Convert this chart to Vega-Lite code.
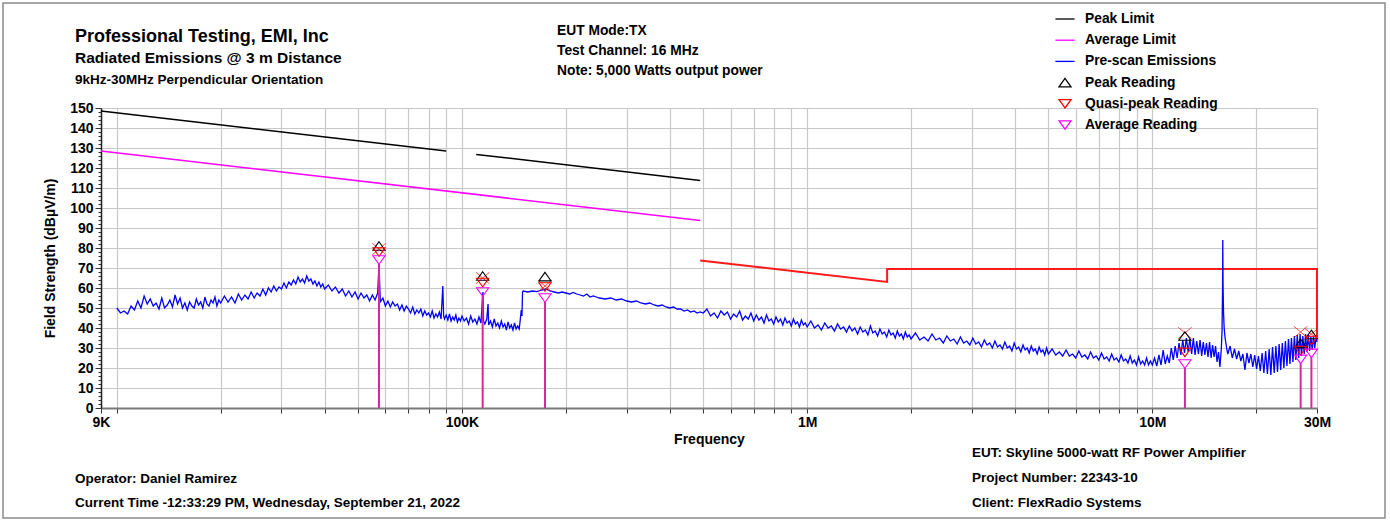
{
"$schema": "https://vega.github.io/schema/vega-lite/v6.json",
"width": 1216,
"height": 300,
"autosize": {"type": "none"},
"padding": {"left": 101, "top": 108, "right": 73, "bottom": 113},
"background": "white",
"config": {"font": "Liberation Sans", "view": {"stroke": null},
 "legend": {"orient": "none", "legendX": 957, "legendY": -96, "padding": 0, "labelFont": "Liberation Sans", "labelFontSize": 13.8, "labelFontWeight": "bold", "labelColor": "black", "symbolSize": 144, "symbolStrokeWidth": 1.3, "rowPadding": 7.2, "labelOffset": 13, "labelLimit": 300}},
"datasets": {
"trace": [
{"f":10000,"v":50},{"f":10250,"v":47.5},{"f":10500,"v":48.5},{"f":10750,"v":47},{"f":11000,"v":51},{"f":11250,"v":49},{"f":11500,"v":53.5},{"f":11750,"v":50},{"f":12000,"v":56},{"f":12250,"v":52},{"f":12500,"v":54.5},{"f":12750,"v":51},{"f":13000,"v":52.5},{"f":13250,"v":49.5},{"f":13500,"v":55},{"f":13750,"v":50},{"f":14000,"v":51.5},{"f":14250,"v":54},{"f":14500,"v":50.5},{"f":14750,"v":56.5},{"f":15000,"v":52},{"f":15250,"v":55},{"f":15500,"v":50},{"f":15750,"v":52.5},{"f":16000,"v":49},{"f":16250,"v":53},{"f":16500,"v":51},{"f":16750,"v":50},{"f":17000,"v":54.5},{"f":17250,"v":51.5},{"f":17500,"v":53},{"f":17750,"v":50},{"f":18000,"v":55.5},{"f":18250,"v":52},{"f":18500,"v":51},{"f":18750,"v":54},{"f":19000,"v":52.5},{"f":19250,"v":55.5},{"f":19500,"v":51},{"f":19750,"v":54},
{"f":20000,"v":52.5},{"f":20500,"v":56},{"f":21000,"v":53},{"f":21500,"v":55.5},{"f":22000,"v":52.5},{"f":22500,"v":57},{"f":23000,"v":54},{"f":23500,"v":56.5},{"f":24000,"v":54.5},{"f":24500,"v":58},{"f":25000,"v":55},{"f":25500,"v":57.5},{"f":26000,"v":56},{"f":26500,"v":59.5},{"f":27000,"v":56.5},{"f":27500,"v":60},{"f":28000,"v":58},{"f":28500,"v":61},{"f":29000,"v":58.5},{"f":29500,"v":60.5},{"f":30000,"v":59.5},{"f":30500,"v":62.5},{"f":31000,"v":60},{"f":31500,"v":63},{"f":32000,"v":61.5},{"f":32500,"v":64},{"f":33000,"v":62},{"f":33500,"v":65.5},{"f":34000,"v":63},{"f":34500,"v":64.5},{"f":35000,"v":62.5},{"f":35500,"v":66},{"f":36000,"v":63.5},{"f":36500,"v":64.5},{"f":37000,"v":62},{"f":37500,"v":63.5},{"f":38000,"v":61},{"f":38500,"v":63},{"f":39000,"v":60.5},{"f":39500,"v":62},
{"f":40000,"v":59.5},{"f":41000,"v":61.5},{"f":42000,"v":58.5},{"f":43000,"v":60.5},{"f":44000,"v":57.5},{"f":45000,"v":59.5},{"f":46000,"v":56},{"f":47000,"v":58.5},{"f":48000,"v":55.5},{"f":49000,"v":58},{"f":50000,"v":54.5},{"f":51000,"v":57.5},{"f":52000,"v":55},{"f":53000,"v":56.5},{"f":54000,"v":53.5},{"f":55000,"v":56.5},{"f":56000,"v":54},{"f":57000,"v":57.5},{"f":57500,"v":72},{"f":58000,"v":53},{"f":59000,"v":55},{"f":60000,"v":51},{"f":61000,"v":53.5},{"f":62000,"v":50.5},{"f":63000,"v":53},{"f":64000,"v":51},{"f":65000,"v":52},{"f":66000,"v":49},{"f":67000,"v":51.5},{"f":68000,"v":48.5},{"f":69000,"v":51},{"f":70000,"v":49.5},{"f":71000,"v":47.5},{"f":72000,"v":50.5},{"f":73000,"v":47},{"f":74000,"v":49},{"f":75000,"v":47.5},{"f":76000,"v":49.5},{"f":77000,"v":46},{"f":78000,"v":48.5},{"f":79000,"v":46.5},{"f":80000,"v":47.5},{"f":81000,"v":45.5},{"f":82000,"v":48.5},{"f":83000,"v":45},{"f":84000,"v":47},{"f":85000,"v":45.5},{"f":86000,"v":48},{"f":87000,"v":44.5},{"f":88000,"v":61},{"f":88500,"v":46},{"f":89000,"v":44.5},{"f":90000,"v":46.5},{"f":91000,"v":44},{"f":92000,"v":47},{"f":93000,"v":43.5},{"f":94000,"v":45.5},{"f":95000,"v":44},{"f":96000,"v":46.5},{"f":97000,"v":43},{"f":98000,"v":45},{"f":99000,"v":43.5},
{"f":100000,"v":46},{"f":101500,"v":43.5},{"f":103000,"v":45},{"f":104500,"v":42},{"f":106000,"v":46},{"f":107500,"v":43},{"f":109000,"v":44.5},{"f":110500,"v":42},{"f":112000,"v":45.5},{"f":113500,"v":42.5},{"f":115000,"v":58},{"f":115500,"v":43.5},{"f":116500,"v":42},{"f":118000,"v":44.5},{"f":119000,"v":52},{"f":119500,"v":41.5},{"f":121000,"v":43.5},{"f":122500,"v":40.5},{"f":124000,"v":44.5},{"f":125500,"v":41},{"f":127000,"v":42.5},{"f":128500,"v":40},{"f":130000,"v":43.5},{"f":131500,"v":40.5},{"f":133000,"v":42},{"f":134500,"v":39},{"f":136000,"v":43},{"f":137500,"v":40},{"f":139000,"v":41.5},{"f":140500,"v":39},{"f":142000,"v":42.5},{"f":143500,"v":39.5},{"f":145000,"v":41},{"f":146500,"v":39.5},{"f":147500,"v":44},{"f":148500,"v":49},{"f":149200,"v":46},{"f":149800,"v":58},
{"f":150500,"v":58.5},{"f":155000,"v":58},{"f":160000,"v":58.5},{"f":165000,"v":58.2},{"f":170000,"v":59},{"f":175000,"v":59.5},{"f":180000,"v":58.5},{"f":185000,"v":58},{"f":190000,"v":57.5},{"f":195000,"v":58},{"f":200000,"v":57.5},{"f":205000,"v":57},{"f":210000,"v":57.8},{"f":215000,"v":57},{"f":220000,"v":56.5},{"f":225000,"v":56},{"f":230000,"v":57},{"f":235000,"v":55.5},{"f":240000,"v":56},{"f":245000,"v":55.5},{"f":250000,"v":55},{"f":260000,"v":54.5},{"f":270000,"v":55},{"f":280000,"v":54},{"f":290000,"v":54.5},{"f":300000,"v":53.5},{"f":310000,"v":53},{"f":320000,"v":53.5},{"f":330000,"v":52.5},{"f":340000,"v":52},{"f":350000,"v":52.5},{"f":360000,"v":51.5},{"f":370000,"v":51},{"f":380000,"v":51.5},{"f":390000,"v":50.5},{"f":400000,"v":50},{"f":410000,"v":50.5},{"f":420000,"v":49.5},{"f":430000,"v":49.5},{"f":440000,"v":48.5},{"f":450000,"v":49},{"f":460000,"v":48},{"f":470000,"v":48.5},{"f":480000,"v":47.5},{"f":490000,"v":48},{"f":500000,"v":47.5},
{"f":512500,"v":49.5},{"f":525000,"v":46},{"f":537500,"v":47.5},{"f":550000,"v":45},{"f":562500,"v":48.5},{"f":575000,"v":46.5},{"f":587500,"v":48},{"f":600000,"v":44.5},{"f":612500,"v":47},{"f":625000,"v":45.5},{"f":637500,"v":48.5},{"f":650000,"v":44},{"f":662500,"v":46},{"f":675000,"v":44.5},{"f":687500,"v":47.5},{"f":700000,"v":43.5},{"f":712500,"v":46.5},{"f":725000,"v":44},{"f":737500,"v":45.5},{"f":750000,"v":42.5},{"f":762500,"v":46.5},{"f":775000,"v":43.5},{"f":787500,"v":44.5},{"f":800000,"v":42},{"f":812500,"v":45.5},{"f":825000,"v":43},{"f":837500,"v":44.5},{"f":850000,"v":41.5},{"f":862500,"v":45},{"f":875000,"v":42.5},{"f":887500,"v":43.5},{"f":900000,"v":41},{"f":912500,"v":44.5},{"f":925000,"v":42},{"f":937500,"v":43},{"f":950000,"v":40.5},{"f":962500,"v":44},{"f":975000,"v":41.5},{"f":987500,"v":42.5},{"f":1000000,"v":40.5},
{"f":1025000,"v":43.5},{"f":1050000,"v":40},{"f":1075000,"v":41.5},{"f":1100000,"v":39},{"f":1125000,"v":42.5},{"f":1150000,"v":40},{"f":1175000,"v":41},{"f":1200000,"v":38.5},{"f":1225000,"v":42},{"f":1250000,"v":39.5},{"f":1275000,"v":40.5},{"f":1300000,"v":38},{"f":1325000,"v":41},{"f":1350000,"v":38.5},{"f":1375000,"v":40},{"f":1400000,"v":37},{"f":1425000,"v":40.5},{"f":1450000,"v":38},{"f":1475000,"v":39},{"f":1500000,"v":36.5},{"f":1525000,"v":41},{"f":1550000,"v":37.5},{"f":1575000,"v":38.5},{"f":1600000,"v":36},{"f":1625000,"v":39.5},{"f":1650000,"v":37},{"f":1675000,"v":38},{"f":1700000,"v":35.5},{"f":1725000,"v":39},{"f":1750000,"v":36.5},{"f":1775000,"v":37.5},{"f":1800000,"v":35},{"f":1825000,"v":38.5},{"f":1850000,"v":36},{"f":1875000,"v":37},{"f":1900000,"v":34.5},{"f":1925000,"v":38},{"f":1950000,"v":35.5},{"f":1975000,"v":36.5},{"f":2000000,"v":34.5},
{"f":2060000,"v":37.5},{"f":2120000,"v":34},{"f":2180000,"v":35.5},{"f":2240000,"v":33.5},{"f":2300000,"v":37},{"f":2360000,"v":34},{"f":2420000,"v":35},{"f":2480000,"v":32.5},{"f":2540000,"v":36},{"f":2600000,"v":33.5},{"f":2660000,"v":34.5},{"f":2720000,"v":32},{"f":2780000,"v":35.5},{"f":2840000,"v":32.5},{"f":2900000,"v":33.5},{"f":2960000,"v":31.5},{"f":3020000,"v":35},{"f":3080000,"v":32},{"f":3140000,"v":33},{"f":3200000,"v":30.5},{"f":3260000,"v":34},{"f":3320000,"v":31.5},{"f":3380000,"v":32.5},{"f":3440000,"v":30},{"f":3500000,"v":33.5},{"f":3560000,"v":30.5},{"f":3620000,"v":31.5},{"f":3680000,"v":29.5},{"f":3740000,"v":33},{"f":3800000,"v":30},{"f":3860000,"v":31},{"f":3920000,"v":28.5},{"f":3980000,"v":32.5},{"f":4040000,"v":29.5},{"f":4100000,"v":30.5},{"f":4160000,"v":28},{"f":4220000,"v":31.5},{"f":4280000,"v":29},{"f":4340000,"v":30},{"f":4400000,"v":27.5},{"f":4460000,"v":31},{"f":4520000,"v":28.5},{"f":4580000,"v":29.5},{"f":4640000,"v":27},{"f":4700000,"v":30.5},{"f":4760000,"v":28},{"f":4820000,"v":29},{"f":4880000,"v":26.5},{"f":4940000,"v":30},{"f":5000000,"v":27},
{"f":5125000,"v":29.5},{"f":5250000,"v":26.5},{"f":5375000,"v":28},{"f":5500000,"v":26},{"f":5625000,"v":29},{"f":5750000,"v":26},{"f":5875000,"v":27},{"f":6000000,"v":25},{"f":6125000,"v":28.5},{"f":6250000,"v":25.5},{"f":6375000,"v":26.5},{"f":6500000,"v":24.5},{"f":6625000,"v":28},{"f":6750000,"v":25},{"f":6875000,"v":26},{"f":7000000,"v":24},{"f":7125000,"v":27.5},{"f":7250000,"v":24.5},{"f":7375000,"v":25.5},{"f":7500000,"v":23.5},{"f":7625000,"v":27},{"f":7750000,"v":24},{"f":7875000,"v":25},{"f":8000000,"v":23},{"f":8125000,"v":26.5},{"f":8250000,"v":23.5},{"f":8375000,"v":24.5},{"f":8500000,"v":22.5},{"f":8625000,"v":26},{"f":8750000,"v":22.5},{"f":8875000,"v":24},{"f":9000000,"v":21.5},{"f":9125000,"v":25.5},{"f":9250000,"v":22},{"f":9375000,"v":23.5},{"f":9500000,"v":21.5},{"f":9625000,"v":25},{"f":9750000,"v":21.5},{"f":9875000,"v":23.5},{"f":10000000,"v":21.5},
{"f":10150000,"v":25},{"f":10300000,"v":21},{"f":10450000,"v":26.5},{"f":10600000,"v":21.5},{"f":10750000,"v":29},{"f":10900000,"v":22},{"f":11050000,"v":26},{"f":11200000,"v":22.5},{"f":11350000,"v":30},{"f":11500000,"v":24},{"f":11650000,"v":31},{"f":11800000,"v":25},{"f":11950000,"v":32.5},{"f":12100000,"v":26.5},{"f":12250000,"v":34},{"f":12400000,"v":27.5},{"f":12550000,"v":35},{"f":12700000,"v":28},{"f":12850000,"v":34.5},{"f":13000000,"v":27},{"f":13150000,"v":35},{"f":13300000,"v":26.5},{"f":13450000,"v":33.5},{"f":13600000,"v":27},{"f":13750000,"v":34},{"f":13900000,"v":26},{"f":14050000,"v":33},{"f":14200000,"v":26.5},{"f":14350000,"v":32.5},{"f":14500000,"v":25.5},{"f":14650000,"v":33},{"f":14800000,"v":25},{"f":14950000,"v":31.5},{"f":15100000,"v":25.5},{"f":15250000,"v":31},{"f":15400000,"v":23},{"f":15550000,"v":28},{"f":15700000,"v":20.5},{"f":15850000,"v":30},{"f":15920000,"v":38},{"f":15980000,"v":60},{"f":16000000,"v":84},{"f":16030000,"v":62},{"f":16080000,"v":48},{"f":16150000,"v":40},{"f":16250000,"v":35},{"f":16350000,"v":32},{"f":16450000,"v":29},
{"f":16550000,"v":27},{"f":16800000,"v":31},{"f":17050000,"v":25},{"f":17300000,"v":29.5},{"f":17550000,"v":24.5},{"f":17800000,"v":28.5},{"f":18050000,"v":23.5},{"f":18300000,"v":27},{"f":18550000,"v":19},{"f":18800000,"v":27.5},{"f":19050000,"v":22.5},{"f":19300000,"v":27},{"f":19550000,"v":20.5},{"f":19800000,"v":26.5},{"f":20050000,"v":19.5},{"f":20300000,"v":26},{"f":20550000,"v":18.5},{"f":20800000,"v":27.5},{"f":21050000,"v":17.5},{"f":21300000,"v":28.5},{"f":21550000,"v":17},{"f":21800000,"v":29.5},{"f":22050000,"v":16.5},{"f":22300000,"v":30.5},{"f":22550000,"v":17.5},{"f":22800000,"v":31},{"f":23050000,"v":18},{"f":23300000,"v":32},{"f":23550000,"v":19},{"f":23800000,"v":32.5},{"f":24050000,"v":20},{"f":24300000,"v":33.5},{"f":24550000,"v":21},{"f":24800000,"v":34.5},{"f":25050000,"v":22},{"f":25300000,"v":35},{"f":25550000,"v":23},{"f":25800000,"v":36},{"f":26050000,"v":24},{"f":26300000,"v":36.5},{"f":26550000,"v":25},{"f":26800000,"v":37},{"f":27050000,"v":26},{"f":27300000,"v":36},{"f":27550000,"v":27},{"f":27800000,"v":37},{"f":28050000,"v":28},{"f":28300000,"v":36.5},{"f":28550000,"v":28.5},{"f":28800000,"v":35.5},{"f":29050000,"v":29},{"f":29300000,"v":36},{"f":29550000,"v":30},{"f":29800000,"v":35},{"f":30000000,"v":33}
],
"readings": [
{"f":57500,"t":"Peak Reading","v":81},{"f":57500,"t":"Quasi-peak Reading","v":78},{"f":57500,"t":"Average Reading","v":74},
{"f":114800,"t":"Peak Reading","v":66},{"f":114800,"t":"Quasi-peak Reading","v":62.7},{"f":114800,"t":"Average Reading","v":58},
{"f":174000,"t":"Peak Reading","v":65.7},{"f":174000,"t":"Quasi-peak Reading","v":60.5},{"f":174000,"t":"Average Reading","v":55},
{"f":12430000,"t":"Peak Reading","v":36},{"f":12430000,"t":"Quasi-peak Reading","v":27.8},{"f":12430000,"t":"Average Reading","v":22},
{"f":26900000,"t":"Peak Reading","v":32.3},{"f":26900000,"t":"Quasi-peak Reading","v":28.7},{"f":26900000,"t":"Average Reading","v":24.3},
{"f":28900000,"t":"Peak Reading","v":36.8},{"f":28900000,"t":"Quasi-peak Reading","v":33.7},{"f":28900000,"t":"Average Reading","v":27.3}
],
"crosses": [
{"f":57500,"v":79.5},{"f":114800,"v":65},{"f":174000,"v":61},{"f":12430000,"v":37.5},{"f":26900000,"v":38},{"f":28900000,"v":37}
]
},
"encoding": {
 "x": {"field": "f", "type": "quantitative",
  "scale": {"type": "log", "domain": [9000, 30000000], "nice": false},
  "axis": {"title": "Frequency", "titleFontSize": 14, "titleFontWeight": "bold", "titleFont": "Liberation Sans", "titlePadding": 3,
   "values": [9000,10000,20000,30000,40000,50000,60000,70000,80000,90000,100000,200000,300000,400000,500000,600000,700000,800000,900000,1000000,2000000,3000000,4000000,5000000,6000000,7000000,8000000,9000000,10000000,20000000,30000000],
   "labelExpr": "datum.value==9000?'9K':datum.value==100000?'100K':datum.value==1000000?'1M':datum.value==10000000?'10M':datum.value==30000000?'30M':''",
   "labelOverlap": false, "labelFlush": false, "labelFontSize": 14, "labelFontWeight": "bold", "labelColor": "black", "labelPadding": 2,
   "grid": true, "gridColor": "#c8c8c8", "gridWidth": 1.2, "tickSize": 5, "tickColor": "#333333", "tickWidth": 1,
   "domainColor": "#7a7a7a", "domainWidth": 2}},
 "y": {"field": "v", "type": "quantitative",
  "scale": {"domain": [0, 150], "nice": false},
  "axis": {"title": "Field Strength (dBµV/m)", "titleFontSize": 14, "titleFontWeight": "bold", "titleFont": "Liberation Sans", "titlePadding": 12,
   "values": [0,2,4,6,8,10,12,14,16,18,20,22,24,26,28,30,32,34,36,38,40,42,44,46,48,50,52,54,56,58,60,62,64,66,68,70,72,74,76,78,80,82,84,86,88,90,92,94,96,98,100,102,104,106,108,110,112,114,116,118,120,122,124,126,128,130,132,134,136,138,140,142,144,146,148,150],
   "labelExpr": "datum.value % 10 === 0 ? datum.label : ''",
   "labelOverlap": false, "labelFlush": false, "labelFontSize": 14, "labelFontWeight": "bold", "labelColor": "black", "labelPadding": 2,
   "grid": true, "gridColor": "#c8c8c8", "gridWidth": 1,
   "gridOpacity": {"condition": {"test": "datum.value % 10 === 0", "value": 1}, "value": 0},
   "tickSize": {"condition": {"test": "datum.value % 10 === 0", "value": 6}, "value": 3},
   "tickColor": "#333333", "domainColor": "#222222", "domainWidth": 1.5}}
},
"layer": [
 {"data": {"values": [{"f":9000,"v":148.5,"seg":1},{"f":90000,"v":128.5,"seg":1},{"f":110000,"v":126.8,"seg":2},{"f":490000,"v":113.8,"seg":2}]},
  "mark": {"type": "line", "color": "black", "strokeWidth": 1.5},
  "encoding": {"detail": {"field": "seg", "type": "nominal"}}},
 {"data": {"values": [{"f":9000,"v":128.5},{"f":490000,"v":93.8}]},
  "mark": {"type": "line", "color": "#ff00ff", "strokeWidth": 1.5},
  "encoding": {}},
 {"data": {"values": [{"f":490000,"v":73.8,"i":1},{"f":1705000,"v":63,"i":2},{"f":1705000,"v":69.5,"i":3},{"f":30000000,"v":69.5,"i":4},{"f":30000000,"v":36,"i":5}]},
  "mark": {"type": "line", "color": "#ff1a1a", "strokeWidth": 2},
  "encoding": {"order": {"field": "i", "type": "quantitative"}}},
 {"data": {"name": "trace"},
  "mark": {"type": "line", "color": "#0000ff", "strokeWidth": 1.3},
  "encoding": {}},
 {"data": {"name": "readings"},
  "transform": [{"filter": "datum.t === 'Average Reading'"}],
  "mark": {"type": "rule", "color": "#d9259f", "strokeWidth": 2, "yOffset": 4},
  "encoding": {"y2": {"datum": 0}}},
 {"data": {"name": "crosses"},
  "mark": {"type": "point", "filled": false, "shape": "M-1,-0.85L1,0.85M1,-0.85L-1,0.85", "size": 180, "color": "#ff0000", "strokeWidth": 1},
  "encoding": {}},
 {"data": {"name": "readings"},
  "mark": {"type": "point", "filled": false, "strokeWidth": 1.1, "size": 150, "opacity": 1},
  "encoding": {
   "color": {"field": "t", "type": "nominal", "scale": {"domain": ["Peak Limit","Average Limit","Pre-scan Emissions","Peak Reading","Quasi-peak Reading","Average Reading"], "range": ["#000000","#ff00ff","#0000ff","#000000","#ff0000","#ff00ff"]}, "legend": {"title": null}},
   "shape": {"field": "t", "type": "nominal", "scale": {"domain": ["Peak Limit","Average Limit","Pre-scan Emissions","Peak Reading","Quasi-peak Reading","Average Reading"], "range": ["M-1.6,0L1.6,0","M-1.6,0L1.6,0","M-1.6,0L1.6,0","M0,-0.7L1,0.7L-1,0.7Z","M0,0.7L1,-0.7L-1,-0.7Z","M0,0.7L1,-0.7L-1,-0.7Z"]}, "legend": {"title": null}}
  }},
 {"data": {"values": [{}]},
  "mark": {"type": "rect", "fill": null, "stroke": "#8a8a8a", "strokeWidth": 1.5},
  "encoding": {"x": {"value": -98}, "x2": {"value": 1284}, "y": {"value": -105}, "y2": {"value": 410}}},
 {"data": {"values": [{}]},
  "mark": {"type": "text", "text": "Professional Testing, EMI, Inc", "align": "left", "baseline": "alphabetic", "font": "Liberation Sans", "fontSize": 18, "fontWeight": "bold", "color": "black"},
  "encoding": {"x": {"value": -26}, "y": {"value": -66}}},
 {"data": {"values": [{}]},
  "mark": {"type": "text", "text": "Radiated Emissions @ 3 m Distance", "align": "left", "baseline": "alphabetic", "font": "Liberation Sans", "fontSize": 15.5, "fontWeight": "bold", "color": "black"},
  "encoding": {"x": {"value": -26}, "y": {"value": -45}}},
 {"data": {"values": [{}]},
  "mark": {"type": "text", "text": "9kHz-30MHz Perpendicular Orientation", "align": "left", "baseline": "alphabetic", "font": "Liberation Sans", "fontSize": 13.5, "fontWeight": "bold", "color": "black"},
  "encoding": {"x": {"value": -26}, "y": {"value": -24.5}}},
 {"data": {"values": [{}]},
  "mark": {"type": "text", "text": ["EUT Mode:TX", "Test Channel: 16 MHz", "Note: 5,000 Watts output power"], "lineHeight": 20, "align": "left", "baseline": "alphabetic", "font": "Liberation Sans", "fontSize": 13.8, "fontWeight": "bold", "color": "black"},
  "encoding": {"x": {"value": 456}, "y": {"value": -73}}},
 {"data": {"values": [{}]},
  "mark": {"type": "text", "text": ["Operator: Daniel Ramirez", "Current Time -12:33:29 PM, Wednesday, September 21, 2022"], "lineHeight": 24, "align": "left", "baseline": "alphabetic", "font": "Liberation Sans", "fontSize": 13.5, "fontWeight": "bold", "color": "black"},
  "encoding": {"x": {"value": -26}, "y": {"value": 375}}},
 {"data": {"values": [{}]},
  "mark": {"type": "text", "text": ["EUT: Skyline 5000-watt RF Power Amplifier", "Project Number: 22343-10", "Client: FlexRadio Systems"], "lineHeight": 25, "align": "left", "baseline": "alphabetic", "font": "Liberation Sans", "fontSize": 13.5, "fontWeight": "bold", "color": "black"},
  "encoding": {"x": {"value": 871}, "y": {"value": 349}}}
]
}
